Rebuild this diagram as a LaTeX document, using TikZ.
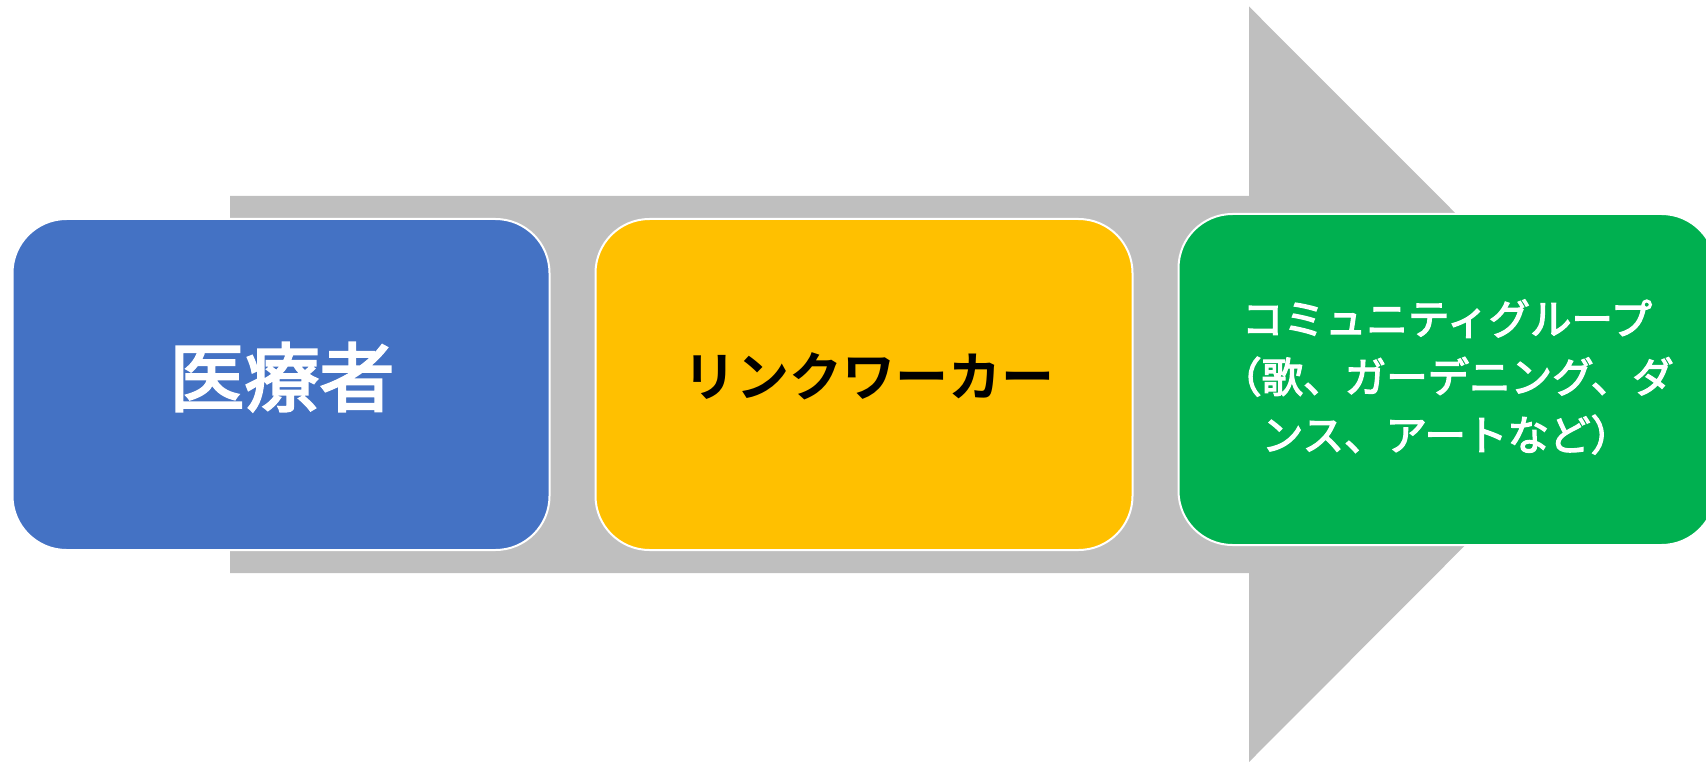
\documentclass[tikz,border=0pt]{standalone}
\usepackage{fontspec}
\newfontfamily\jp{Noto Sans CJK JP}[BoldFont={* Bold}]
\newfontfamily\jpm{Noto Sans CJK JP}[FakeBold=3]
\definecolor{cblue}{HTML}{4472C4}
\definecolor{cyellow}{HTML}{FFC000}
\definecolor{cgreen}{HTML}{00B050}
\definecolor{cgray}{HTML}{BFBFBF}
\tikzset{
  card/.style={draw=white, line width=2pt, rounded corners=54pt,
    minimum width=537pt, minimum height=331pt, inner sep=0pt,
    align=center, text=white},
}
\begin{document}
\begin{tikzpicture}[x=1pt,y=-1pt]
\useasboundingbox (0,0) rectangle (1706,762);
\clip (0,0) rectangle (1706,762);
% big arrow
\fill[cgray] (230,196) -- (1249,196) -- (1249,6.5) -- (1626,384) -- (1249,762) -- (1249,573) -- (230,573) -- cycle;
% cards
\node[card, fill=cblue] (med) at (281,384.5) {};
\node[card, fill=cyellow] (link) at (864,384.5) {};
\node[card, fill=cgreen] (comm) at (1447,379.5) {};
% texts
\node[text=white, font=\jpm\fontsize{75}{75}\selectfont] (medt) at (282,377) {医療者};
\node[text=black, font=\jp\bfseries\fontsize{53}{53}\selectfont] (linkt) at (868.5,376) {リンクワーカー};
\node[text=white, align=center, font=\jpm\fontsize{41.5}{58}\selectfont] (commt) at (1447,377)
  {コミュニティグループ\\（歌、ガーデニング、ダ\\ンス、アートなど）};
\end{tikzpicture}
\end{document}
